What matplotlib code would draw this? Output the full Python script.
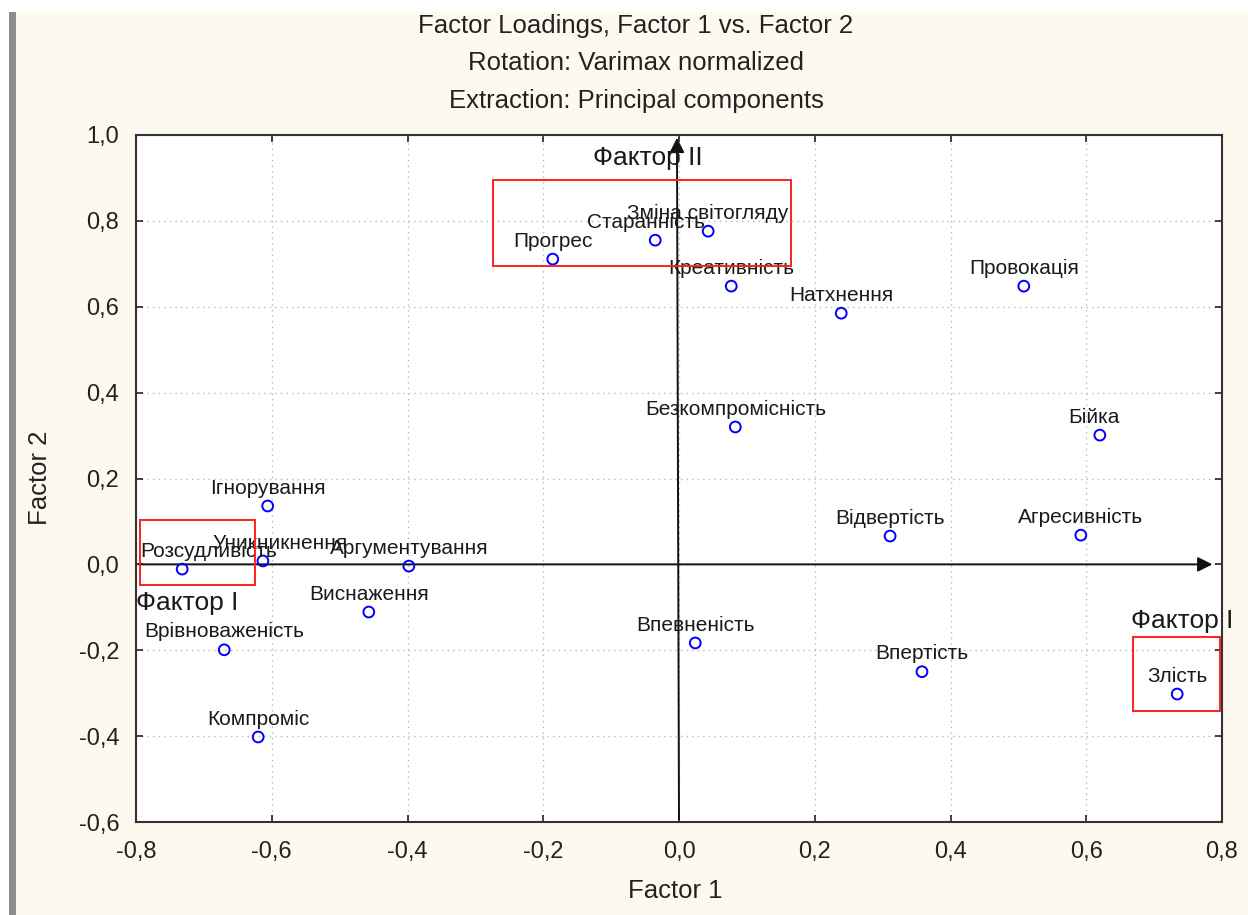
import matplotlib
matplotlib.use("Agg")
import matplotlib.pyplot as plt
from matplotlib.patches import Rectangle
from matplotlib.ticker import FuncFormatter, MultipleLocator

plt.rcParams['font.family'] = ['Liberation Sans', 'DejaVu Sans']

# factor loadings
names = ['Прогрес', 'Старанність', 'Зміна світогляду', 'Креативність', 'Натхнення',
         'Провокація', 'Безкомпромісність', 'Бійка', 'Ігнорування', 'Відвертість',
         'Агресивність', 'Розсудливість', 'Уникникнення', 'Аргументування', 'Виснаження',
         'Врівноваженість', 'Впевненість', 'Впертість', 'Компроміс', 'Злість']
factor1 = [-0.186, -0.035, 0.043, 0.077, 0.239,
           0.508, 0.083, 0.620, -0.606, 0.311,
           0.592, -0.732, -0.613, -0.398, -0.457,
           -0.670, 0.024, 0.358, -0.620, 0.734]
factor2 = [0.711, 0.755, 0.776, 0.648, 0.585,
           0.648, 0.320, 0.301, 0.136, 0.066,
           0.068, -0.011, 0.008, -0.004, -0.111,
           -0.199, -0.183, -0.250, -0.402, -0.302]

# label nudges (points) where the labels were moved off centre
label_dx = {'Розсудливість': 19, 'Уникникнення': 12, 'Старанність': -7, 'Бійка': -4}

fig = plt.figure(figsize=(12.48, 9.15), dpi=100, facecolor='white')
# cream background and the grey window border on the left
fig.patches.append(Rectangle((16 / 1248, 0), 1, 1 - 12 / 915, transform=fig.transFigure,
                             facecolor='#fdf9ef', edgecolor='none', zorder=-10))
fig.patches.append(Rectangle((9 / 1248, 0), 7 / 1248, 1 - 12 / 915, transform=fig.transFigure,
                             facecolor='#8c8c8c', edgecolor='none', zorder=-9))

ax = fig.add_axes([136 / 1248, 1 - 822 / 915, 1086 / 1248, 687 / 915])
ax.set_facecolor('white')
ax.set_xlim(-0.8, 0.8)
ax.set_ylim(-0.6, 1.0)
ax.xaxis.set_major_locator(MultipleLocator(0.2))
ax.yaxis.set_major_locator(MultipleLocator(0.2))
fmt = FuncFormatter(lambda v, p: f'{v:.1f}'.replace('.', ',').replace('-0,0', '0,0'))
ax.xaxis.set_major_formatter(fmt)
ax.yaxis.set_major_formatter(fmt)
ax.tick_params(direction='in', length=5, width=1.2, top=True, right=True,
               labelsize=17, pad=12, colors='#222222')
ax.tick_params(axis='x', pad=14)
ax.grid(True, ls=(0, (1, 3)), color='#b8b8b8', lw=1)
for s in ax.spines.values():
    s.set_linewidth(1.5)
    s.set_color('#333333')

# axis arrows through the origin
ax.annotate('', xy=(0.79, 0), xytext=(-0.8, 0),
            arrowprops=dict(arrowstyle='-|>', color='#111111', lw=1.4, mutation_scale=22))
ax.annotate('', xy=(-0.003, 1.0), xytext=(0.0, -0.6),
            arrowprops=dict(arrowstyle='-|>', color='#111111', lw=1.4, mutation_scale=22))

ax.scatter(factor1, factor2, s=60, facecolors='none', edgecolors='#0000ff', linewidths=1.4, zorder=5)
for n, x, y in zip(names, factor1, factor2):
    ax.annotate(n, (x, y), xytext=(label_dx.get(n, 0), 6), textcoords='offset points',
                ha='center', va='bottom', fontsize=15, color='#1a1a1a', zorder=6)

# red highlight boxes
for (x0, y0, x1, y1) in [(-0.274, 0.695, 0.165, 0.895),
                         (-0.794, -0.048, -0.625, 0.103),
                         (0.669, -0.341, 0.797, -0.169)]:
    ax.add_patch(Rectangle((x0, y0), x1 - x0, y1 - y0, fill=False, edgecolor='#ff2020',
                           lw=1.4, zorder=7))

ax.text(-0.046, 0.946, 'Фактор II', ha='center', va='center', fontsize=19, color='#1a1a1a')
ax.text(-0.725, -0.090, 'Фактор I', ha='center', va='center', fontsize=19, color='#1a1a1a')
ax.text(0.741, -0.132, 'Фактор I', ha='center', va='center', fontsize=19, color='#1a1a1a',
        clip_on=False)

fig.text(636 / 1248, 1 - 26 / 915, 'Factor Loadings, Factor 1 vs. Factor 2',
         ha='center', va='center', fontsize=18.5, color='#222222')
fig.text(636 / 1248, 1 - 63 / 915, 'Rotation: Varimax normalized',
         ha='center', va='center', fontsize=18.5, color='#222222')
fig.text(636 / 1248, 1 - 101 / 915, 'Extraction: Principal components',
         ha='center', va='center', fontsize=18.5, color='#222222')
fig.text(675 / 1248, 1 - 891 / 915, 'Factor 1', ha='center', va='center', fontsize=18.5,
         color='#222222')
fig.text(40 / 1248, 1 - 478 / 915, 'Factor 2', ha='center', va='center', fontsize=18.5,
         rotation=90, color='#222222')

fig.savefig('out.png', dpi=100, facecolor=fig.get_facecolor())
